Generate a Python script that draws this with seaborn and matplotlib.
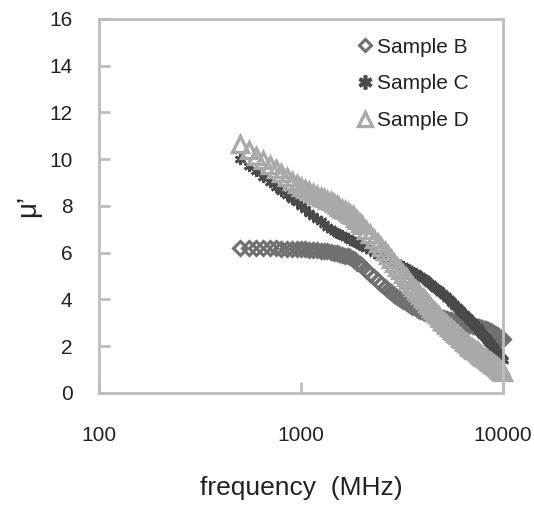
import matplotlib
matplotlib.use('Agg')
import matplotlib.pyplot as plt
import seaborn as sns

# frequency sweep (MHz)
freq = [500, 550, 600, 650, 700, 750, 800, 850, 900, 950, 1000,
        1050, 1100, 1150, 1200, 1250, 1300, 1350, 1400, 1450, 1500,
        1550, 1600, 1650, 1700, 1750, 1800, 1850, 1900, 1950, 2000,
        2100, 2200, 2300, 2400, 2500, 2600, 2700, 2800, 2900, 3000,
        3100, 3200, 3300, 3400, 3500, 3600, 3700, 3800, 3900, 4000,
        4100, 4200, 4300, 4400, 4500, 4600, 4700, 4800, 4900, 5000,
        5100, 5200, 5300, 5400, 5500, 5600, 5700, 5800, 5900, 6000,
        6100, 6200, 6300, 6400, 6500, 6600, 6700, 6800, 6900, 7000,
        7100, 7200, 7300, 7400, 7500, 7600, 7700, 7800, 7900, 8000,
        8100, 8200, 8300, 8400, 8500, 8600, 8700, 8800, 8900, 9000,
        9100, 9200, 9300, 9400, 9500, 9600, 9700, 9800, 9900, 10000]

sample_b = [6.20, 6.20, 6.20, 6.20, 6.19, 6.19, 6.18, 6.18, 6.17, 6.16, 6.15,
            6.14, 6.13, 6.12, 6.11, 6.09, 6.08, 6.06, 6.04, 6.01, 5.98,
            5.95, 5.92, 5.88, 5.84, 5.80, 5.75, 5.67, 5.58, 5.50, 5.42,
            5.25, 5.10, 4.95, 4.81, 4.68, 4.55, 4.42, 4.30, 4.20, 4.11,
            4.03, 3.95, 3.88, 3.81, 3.74, 3.68, 3.62, 3.56, 3.51, 3.47,
            3.44, 3.41, 3.38, 3.36, 3.33, 3.31, 3.28, 3.26, 3.24, 3.22,
            3.20, 3.18, 3.16, 3.14, 3.12, 3.10, 3.09, 3.08, 3.06, 3.05,
            3.03, 3.02, 3.00, 2.99, 2.97, 2.96, 2.94, 2.93, 2.91, 2.90,
            2.88, 2.87, 2.85, 2.84, 2.82, 2.81, 2.79, 2.78, 2.76, 2.75,
            2.73, 2.72, 2.70, 2.69, 2.66, 2.64, 2.61, 2.59, 2.56, 2.54,
            2.51, 2.49, 2.46, 2.44, 2.41, 2.39, 2.36, 2.34, 2.31, 2.29]

sample_c = [10.00, 9.73, 9.48, 9.24, 9.03, 8.83, 8.65, 8.47, 8.31, 8.15, 8.00,
            7.86, 7.72, 7.58, 7.46, 7.34, 7.22, 7.11, 7.00, 6.93, 6.86,
            6.80, 6.74, 6.68, 6.62, 6.56, 6.50, 6.45, 6.40, 6.35, 6.30,
            6.20, 6.10, 6.00, 5.92, 5.85, 5.78, 5.72, 5.66, 5.60, 5.54,
            5.48, 5.42, 5.36, 5.30, 5.24, 5.18, 5.12, 5.06, 5.00, 4.93,
            4.86, 4.79, 4.72, 4.65, 4.58, 4.51, 4.45, 4.39, 4.33, 4.27,
            4.20, 4.13, 4.06, 4.00, 3.93, 3.87, 3.80, 3.74, 3.68, 3.62,
            3.56, 3.50, 3.44, 3.38, 3.32, 3.27, 3.21, 3.16, 3.10, 3.05,
            3.00, 2.94, 2.88, 2.82, 2.76, 2.70, 2.64, 2.58, 2.52, 2.46,
            2.40, 2.35, 2.29, 2.23, 2.18, 2.12, 2.07, 2.01, 1.96, 1.91,
            1.86, 1.80, 1.75, 1.70, 1.65, 1.60, 1.55, 1.50, 1.45, 1.40]

sample_d = [10.65, 10.40, 10.16, 9.95, 9.75, 9.57, 9.40, 9.24, 9.08, 8.93, 8.80,
            8.71, 8.63, 8.55, 8.47, 8.40, 8.33, 8.26, 8.20, 8.12, 8.04,
            7.96, 7.88, 7.81, 7.74, 7.67, 7.60, 7.49, 7.38, 7.28, 7.18,
            6.99, 6.80, 6.60, 6.42, 6.24, 6.06, 5.90, 5.73, 5.57, 5.41,
            5.25, 5.11, 4.96, 4.82, 4.68, 4.55, 4.42, 4.30, 4.18, 4.07,
            3.96, 3.86, 3.75, 3.65, 3.56, 3.46, 3.37, 3.28, 3.19, 3.10,
            3.03, 2.96, 2.90, 2.83, 2.77, 2.71, 2.64, 2.58, 2.52, 2.47,
            2.41, 2.35, 2.30, 2.24, 2.19, 2.13, 2.08, 2.03, 1.98, 1.94,
            1.90, 1.86, 1.82, 1.78, 1.74, 1.70, 1.66, 1.62, 1.59, 1.55,
            1.51, 1.48, 1.44, 1.41, 1.37, 1.34, 1.31, 1.27, 1.24, 1.21,
            1.18, 1.14, 1.11, 1.08, 1.05, 1.02, 0.99, 0.96, 0.93, 0.90]

sns.set_style("white")
plt.rcParams['font.family'] = ['Liberation Sans', 'DejaVu Sans']

fig = plt.figure(figsize=(5.34, 5.09), dpi=100)
ax = fig.add_axes([0.1854, 0.2279, 0.7566, 0.7348])

spine_col = "#bdbdbd"
text_col = "#222222"

sns.lineplot(x=freq, y=sample_b, ax=ax, estimator=None, sort=False,
             marker="D", ls="none", ms=7.5, mfc="none", mec="#707070", mew=2.2,
             label="Sample B", clip_on=False)
sns.lineplot(x=freq, y=sample_c, ax=ax, estimator=None, sort=False,
             marker=(6, 2, 0), ls="none", ms=8, mec="#4a4a4a", mew=2.0,
             color="#4a4a4a", label="Sample C", clip_on=False)
sns.lineplot(x=freq, y=sample_d, ax=ax, estimator=None, sort=False,
             marker="^", ls="none", ms=12, mfc="none", mec="#a9a9a9", mew=2.4,
             label="Sample D", clip_on=False)

ax.set_xscale("log")
ax.set_xlim(100, 10000)
ax.set_ylim(0, 16)
ax.set_xticks([100, 1000, 10000])
ax.set_xticklabels(["100", "1000", "10000"])
ax.minorticks_off()
ax.set_yticks(range(0, 17, 2))

for s in ax.spines.values():
    s.set_visible(True)
    s.set_color(spine_col)
    s.set_linewidth(2)

ax.tick_params(axis="both", direction="in", length=8, width=2, color=spine_col,
               labelsize=15, labelcolor=text_col)
ax.tick_params(axis="y", left=True, right=False, pad=19)
ax.tick_params(axis="x", bottom=True, top=False, pad=24)

ax.set_xlabel("frequency  (MHz)", fontsize=19, color=text_col, labelpad=22)
ax.set_ylabel("μ’", fontsize=20, color=text_col, labelpad=6)

leg = ax.legend(loc="upper left", bbox_to_anchor=(0.595, 1.0), frameon=False,
                fontsize=15, handlelength=0.7, handletextpad=0.2,
                labelspacing=0.85, markerscale=0.8, labelcolor=text_col)
# legend asterisk a bit bolder, as in the original
leg.legend_handles[1].set_markersize(10)
leg.legend_handles[1].set_markeredgewidth(2.6)

fig.savefig("out.png", dpi=100)
